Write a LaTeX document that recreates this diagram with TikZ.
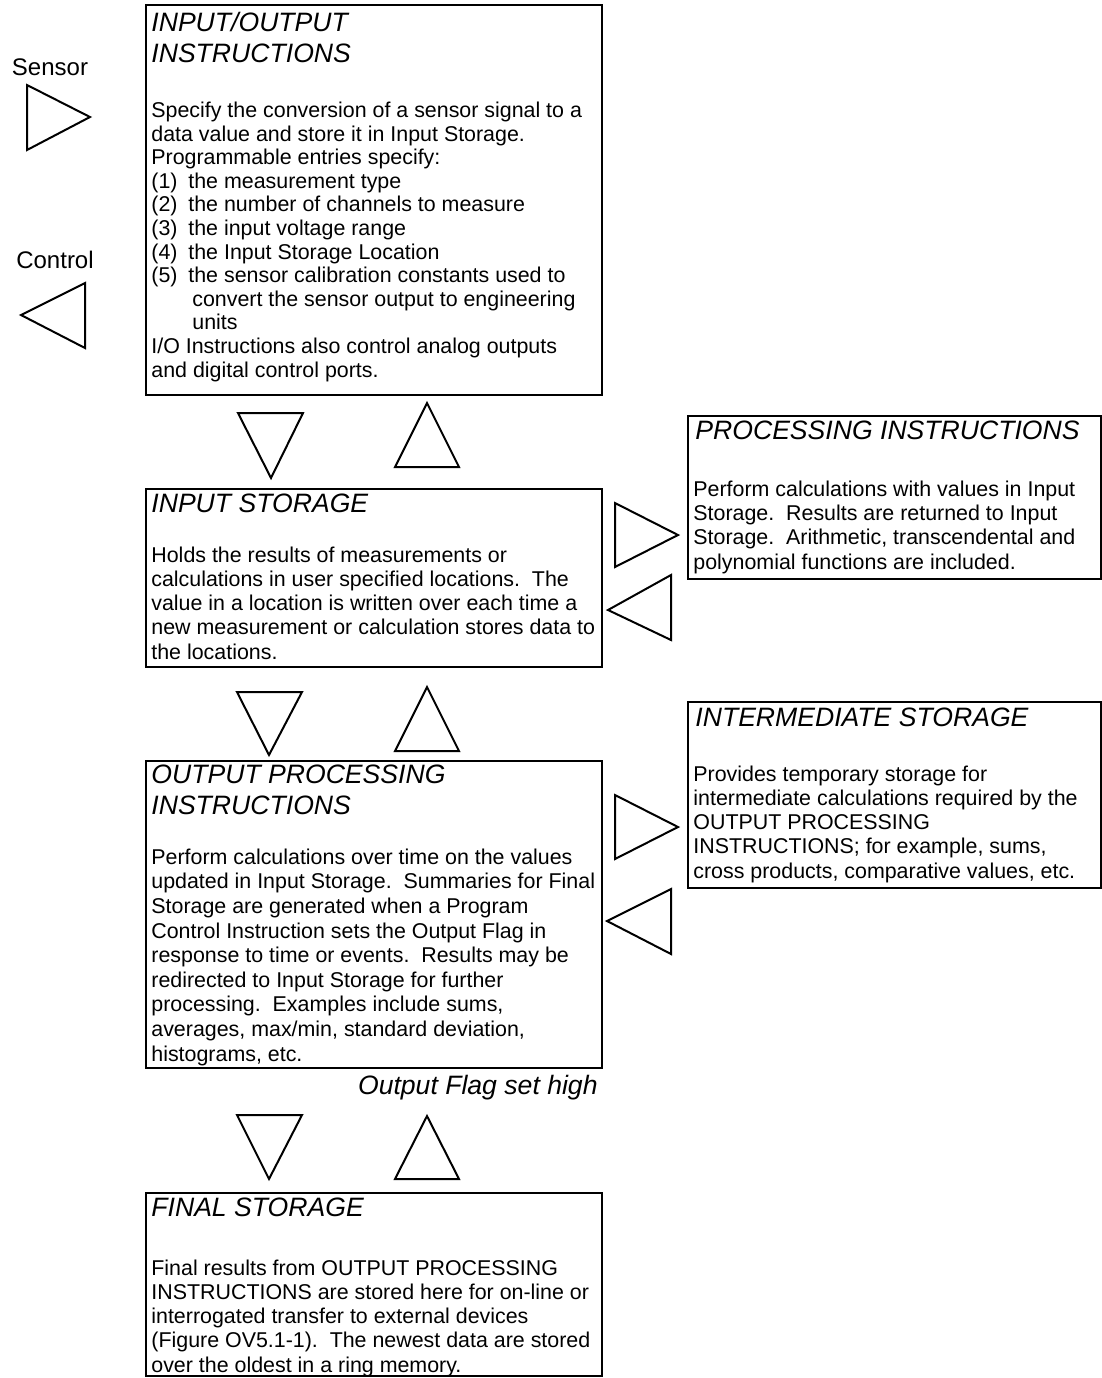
\documentclass[tikz,border=0pt]{standalone}
\usepackage{fontspec}
\setmainfont{Liberation Sans}
\usetikzlibrary{positioning,fit,calc}

\begin{document}
\begin{tikzpicture}[
	x=0.5pt, y=-0.5pt,
		box/.style={
			rectangle,
			draw,
			line width=1pt,
			inner sep=0pt
		},
		title/.style={
			anchor=base west,
			align=left,
			inner sep=0pt,
			font=\fontsize{13.3}{15.5}\selectfont\itshape
		},
		body/.style={
			anchor=base west,
			align=left,
			inner sep=0pt,
			font=\fontsize{10.7}{12.1}\selectfont
		},
		label/.style={
			anchor=base,
			inner sep=0pt,
			font=\fontsize{12}{14}\selectfont
		},
		flow/.style={
			draw,
			line width=1pt,
			line join=miter
		}
	]
	\useasboundingbox (0,0) rectangle (1102,1378);
	% Box corners
	\coordinate (io_a) at (146,5);
	\coordinate (io_b) at (602,395);
	\coordinate (in_a) at (146,489);
	\coordinate (in_b) at (602,667);
	\coordinate (pr_a) at (688,416);
	\coordinate (pr_b) at (1101,579);
	\coordinate (im_a) at (688,702);
	\coordinate (im_b) at (1101,888);
	\coordinate (op_a) at (146,761);
	\coordinate (op_b) at (602,1068);
	\coordinate (fs_a) at (146,1193);
	\coordinate (fs_b) at (602,1376);
	% Boxes
	\node[box, fit=(io_a) (io_b)] (io) {};
	\node[box, fit=(in_a) (in_b)] (instore) {};
	\node[box, fit=(pr_a) (pr_b)] (proc) {};
	\node[box, fit=(im_a) (im_b)] (inter) {};
	\node[box, fit=(op_a) (op_b)] (outproc) {};
	\node[box, fit=(fs_a) (fs_b)] (final) {};

	% Input/output instructions (texts sit on their last baseline)
	\node[title] (io_title) at ($(io.north west)+(6,58)$) {INPUT/OUTPUT\\INSTRUCTIONS};
	\node[body, font=\fontsize{10.7}{11.8}\selectfont] (io_text) at ($(io.north west)+(6,373)$) {
		Specify the conversion of a sensor signal to a\\
		data value and store it in Input Storage.\\
		Programmable entries specify:\\
		\makebox[18.5pt][l]{(1)}the measurement type\\
		\makebox[18.5pt][l]{(2)}the number of channels to measure\\
		\makebox[18.5pt][l]{(3)}the input voltage range\\
		\makebox[18.5pt][l]{(4)}the Input Storage Location\\
		\makebox[18.5pt][l]{(5)}the sensor calibration constants used to\\
		\hspace*{20.5pt}convert the sensor output to engineering\\
		\hspace*{20.5pt}units\\
		I/O Instructions also control analog outputs\\
		and digital control ports.};

	% Input storage
	\node[title] (in_title) at ($(instore.north west)+(6,24)$) {INPUT STORAGE};
	\node[body] (in_text) at ($(instore.north west)+(6,171)$) {
		Holds the results of measurements or\\
		calculations in user specified locations.~~The\\
		value in a location is written over each time a\\
		new measurement or calculation stores data to\\
		the locations.};

	% Processing instructions
	\node[title] (pr_title) at ($(proc.north west)+(8,24)$) {PROCESSING INSTRUCTIONS};
	\node[body] (pr_text) at ($(proc.north west)+(6,154)$) {
		Perform calculations with values in Input\\
		Storage.~~Results are returned to Input\\
		Storage.~~Arithmetic, transcendental and\\
		polynomial functions are included.};

	% Intermediate storage
	\node[title] (im_title) at ($(inter.north west)+(8,25)$) {INTERMEDIATE STORAGE};
	\node[body] (im_text) at ($(inter.north west)+(6,177)$) {
		Provides temporary storage for\\
		intermediate calculations required by the\\
		OUTPUT PROCESSING\\
		INSTRUCTIONS; for example, sums,\\
		cross products, comparative values, etc.};

	% Output processing instructions
	\node[title] (op_title) at ($(outproc.north west)+(6,54)$) {OUTPUT PROCESSING\\INSTRUCTIONS};
	\node[body, font=\fontsize{10.7}{12.3}\selectfont] (op_text) at ($(outproc.north west)+(6,301)$) {
		Perform calculations over time on the values\\
		updated in Input Storage.~~Summaries for Final\\
		Storage are generated when a Program\\
		Control Instruction sets the Output Flag in\\
		response to time or events.~~Results may be\\
		redirected to Input Storage for further\\
		processing.~~Examples include sums,\\
		averages, max/min, standard deviation,\\
		histograms, etc.};
	\node[title, anchor=base east] (flag) at ($(outproc.south east)+(-5,25)$) {Output Flag set high};

	% Final storage
	\node[title] (fs_title) at ($(final.north west)+(6,24)$) {FINAL STORAGE};
	\node[body] (fs_text) at ($(final.north west)+(6,180)$) {
		Final results from OUTPUT PROCESSING\\
		INSTRUCTIONS are stored here for on-line or\\
		interrogated transfer to external devices\\
		(Figure OV5.1-1).~~The newest data are stored\\
		over the oldest in a ring memory.};

	% Sensor and control
	\node[label] (sensor) at (50,75) {Sensor};
	\node[label] (control) at (55,268) {Control};
	\draw[flow] (27,85) -- (90,117) -- (27,150) -- cycle;
	\draw[flow] (85,283) -- (21,315) -- (85,348) -- cycle;

	% Flow between I/O and input storage
	\draw[flow] (238,413) -- (303,413) -- (271,478) -- cycle;
	\draw[flow] (395,467) -- (459,467) -- (427,403) -- cycle;
	% Flow between input storage and processing
	\draw[flow] (615,503) -- (678,535) -- (615,567) -- cycle;
	\draw[flow] (671,575) -- (608,610) -- (671,640) -- cycle;
	% Flow between input storage and output processing
	\draw[flow] (237,692) -- (302,692) -- (269,755) -- cycle;
	\draw[flow] (395,751) -- (459,751) -- (427,687) -- cycle;
	% Flow between output processing and intermediate storage
	\draw[flow] (615,795) -- (678,827) -- (615,859) -- cycle;
	\draw[flow] (671,889) -- (607,921) -- (671,954) -- cycle;
	% Flow between output processing and final storage
	\draw[flow] (237,1115) -- (302,1115) -- (269,1179) -- cycle;
	\draw[flow] (395,1179) -- (459,1179) -- (427,1116) -- cycle;
\end{tikzpicture}
\end{document}
